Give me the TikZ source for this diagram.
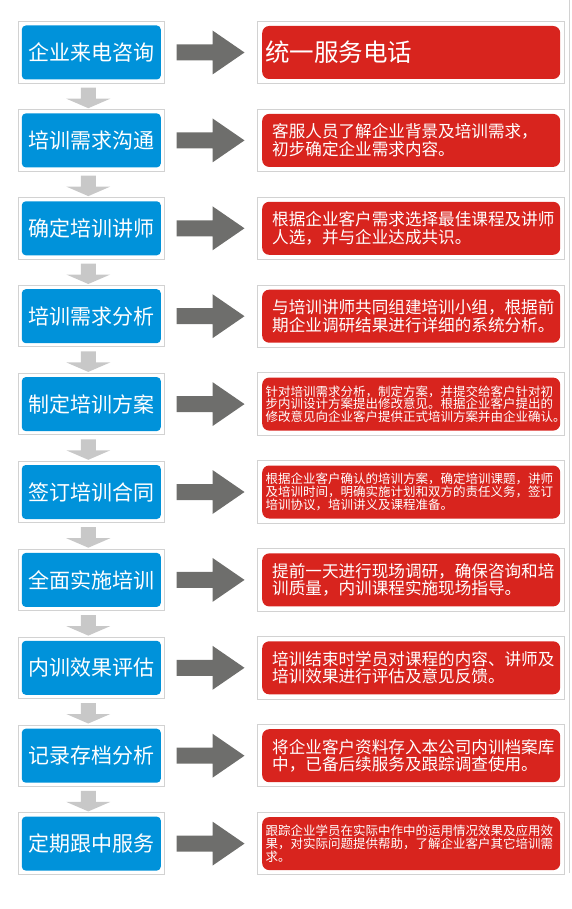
\documentclass[tikz,border=0pt]{standalone}
\usepackage{fontspec}
\setmainfont{Noto Sans CJK SC}
\usepackage{xcolor}
\usepackage{tikz}
\usetikzlibrary{positioning, fit}
\definecolor{stepblue}{RGB}{0,146,218}
\definecolor{notered}{RGB}{216,36,30}
\definecolor{arrowgray}{RGB}{110,110,108}
\definecolor{downgray}{RGB}{200,200,200}
\definecolor{framegray}{RGB}{210,210,210}
\tikzset{
    stepbox/.style={fill=stepblue, rounded corners=4pt, text=white, minimum width=139pt, minimum height=54pt, inner sep=0pt, font=\fontsize{21}{25}\selectfont},
    notebox/.style={fill=notered, rounded corners=7pt, text=white, minimum width=298pt, minimum height=53pt, inner ysep=0pt, align=left},
    titlenote/.style={notebox, inner xsep=3pt, text width=292pt, font=\fontsize{24.5}{28}\selectfont},
    bignote/.style={notebox, inner xsep=10pt, text width=278pt, font=\fontsize{16.6}{17.6}\selectfont},
    smallnote/.style={notebox, inner xsep=3.5pt, text width=291pt, font=\fontsize{12.5}{12.8}\selectfont},
    leftframe/.style={draw=framegray, line width=1pt, inner sep=3.5pt},
    rightframe/.style={draw=framegray, line width=1pt, inner sep=4.5pt},
    rightarrow/.pic={\fill[arrowgray] (0,-8) -- (36,-8) -- (36,-22) -- (68,0) -- (36,22) -- (36,8) -- (0,8) -- cycle;},
    downarrow/.pic={\fill[downgray] (-7.5,0) -- (7.5,0) -- (7.5,11) -- (22,11) -- (0,20.5) -- (-22,11) -- (-7.5,11) -- cycle;}
}

\begin{document}
\begin{tikzpicture}[x=1pt, y=-1pt]
    \useasboundingbox (0,0) rectangle (571,909);
    \node (s1) [stepbox] at (91.3,52.5) {企业来电咨询};
    \node (n1) [titlenote, right=101pt of s1] {统一服务电话};
    \node (s2) [stepbox, below=33.5pt of s1] {培训需求沟通};
    \node (n2) [bignote, right=101pt of s2] {客服人员了解企业背景及培训需求，\\初步确定企业需求内容。};
    \node (s3) [stepbox, below=33.5pt of s2] {确定培训讲师};
    \node (n3) [bignote, right=101pt of s3] {根据企业客户需求选择最佳课程及讲师\\人选，并与企业达成共识。};
    \node (s4) [stepbox, below=33.5pt of s3] {培训需求分析};
    \node (n4) [bignote, right=101pt of s4] {与培训讲师共同组建培训小组，根据前\\期企业调研结果进行详细的系统分析。};
    \node (s5) [stepbox, below=33.5pt of s4] {制定培训方案};
    \node (n5) [smallnote, right=101pt of s5] {针对培训需求分析，制定方案，并提交给客户针对初\\步内训设计方案提出修改意见。根据企业客户提出的\\修改意见向企业客户提供正式培训方案并由企业确认。};
    \node (s6) [stepbox, below=33.5pt of s5] {签订培训合同};
    \node (n6) [smallnote, right=101pt of s6] {根据企业客户确认的培训方案，确定培训课题，讲师\\及培训时间，明确实施计划和双方的责任义务，签订\\培训协议，培训讲义及课程准备。};
    \node (s7) [stepbox, below=33.5pt of s6] {全面实施培训};
    \node (n7) [bignote, right=101pt of s7] {提前一天进行现场调研，确保咨询和培\\训质量，内训课程实施现场指导。};
    \node (s8) [stepbox, below=33.5pt of s7] {内训效果评估};
    \node (n8) [bignote, right=101pt of s8] {培训结束时学员对课程的内容、讲师及\\培训效果进行评估及意见反馈。};
    \node (s9) [stepbox, below=33.5pt of s8] {记录存档分析};
    \node (n9) [bignote, right=101pt of s9] {将企业客户资料存入本公司内训档案库\\中，已备后续服务及跟踪调查使用。};
    \node (s10) [stepbox, below=33.5pt of s9] {定期跟中服务};
    \node (n10) [smallnote, right=101pt of s10] {跟踪企业学员在实际中作中的运用情况效果及应用效\\果，对实际问题提供帮助，了解企业客户其它培训需\\求。};
    \foreach \i in {1,...,10} {
        \node (f\i) [leftframe, fit=(s\i)] {};
        \node (g\i) [rightframe, fit=(n\i)] {};
        \pic at ([xshift=11.5pt]f\i.east) {rightarrow};
    }
    \foreach \i in {1,...,9}
        \pic at ([xshift=-3pt, yshift=-4pt]f\i.south) {downarrow};
    \draw [framegray, line width=1.5pt] (569.5,0) -- (569.5,873);
\end{tikzpicture}
\end{document}
